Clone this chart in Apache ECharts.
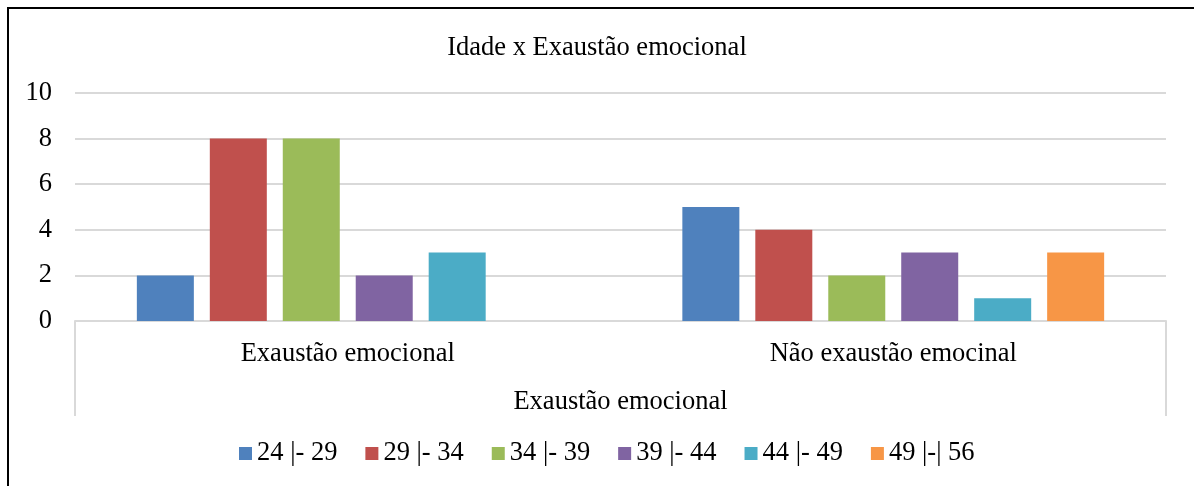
<!DOCTYPE html>
<html>
<head>
<meta charset="utf-8">
<script src="https://cdn.jsdelivr.net/npm/echarts@6/dist/echarts.min.js"></script>
<style>
  html, body { margin: 0; padding: 0; background: #fff; overflow: hidden; }
  #frame { position: absolute; left: 7px; top: 7px; width: 1300px; height: 600px; border: 2px solid #000; }
  #chart { position: absolute; left: 0; top: 0; width: 1194px; height: 486px; }
</style>
</head>
<body>
<div id="frame"></div>
<div id="chart"></div>
<script>
(function () {
var myChart = echarts.init(document.getElementById("chart"));

var categorias = ["Exaustão emocional", "Não exaustão emocinal"];
var faixas = ["24 |- 29", "29 |- 34", "34 |- 39", "39 |- 44", "44 |- 49", "49 |-| 56"];
var valores = [
    [2, 5],
    [8, 4],
    [8, 2],
    [2, 3],
    [3, 1],
    [null, 3]
];
var cores = ["#4F81BD", "#C0504D", "#9BBB59", "#8064A2", "#4BACC6", "#F79646"];

var fonte = "Liberation Serif";
var tam = 26.5;

var series = [];
for (var i = 0; i < faixas.length; i++) {
    series.push({
        name: faixas[i],
        type: 'bar',
        data: valores[i],
        barWidth: 57,
        barGap: '28%',
        itemStyle: { color: cores[i] }
    });
}

option = {
    animation: false,
    textStyle: { fontFamily: fonte, color: '#000' },
    title: {
        text: 'Idade x Exaustão emocional',
        left: 'center',
        top: 30,
        padding: [5, 5, 5, 17],
        textStyle: { fontFamily: fonte, fontWeight: 'normal', fontSize: tam, color: '#000' }
    },
    legend: {
        data: faixas,
        bottom: 14,
        left: 234,
        icon: 'rect',
        itemWidth: 13,
        itemHeight: 13,
        itemGap: 28,
        textStyle: { fontFamily: fonte, fontSize: tam, color: '#000' }
    },
    grid: { left: 75, right: 28, top: 93, bottom: 165 },
    xAxis: [{
        type: 'category',
        data: categorias,
        position: 'bottom',
        axisLine: { lineStyle: { color: '#D9D9D9', width: 2 } },
        axisTick: { show: false },
        axisLabel: { fontFamily: fonte, fontSize: tam, color: '#000', margin: 20 }
    }, {
        type: 'category',
        data: [''],
        position: 'bottom',
        axisLine: { show: false },
        axisTick: { show: true, length: 95, lineStyle: { color: '#D9D9D9', width: 2 } },
        axisLabel: { show: false },
        name: 'Exaustão emocional',
        nameLocation: 'middle',
        nameGap: 68,
        nameTextStyle: { fontFamily: fonte, fontSize: tam, color: '#000' }
    }],
    yAxis: {
        type: 'value',
        min: 0,
        max: 10,
        interval: 2,
        axisLine: { show: false },
        axisTick: { show: false },
        splitLine: { lineStyle: { color: '#D9D9D9', width: 2 } },
        axisLabel: { fontFamily: fonte, fontSize: tam, color: '#000', margin: 23 }
    },
    series: series
};

    myChart.setOption(option);
    window.addEventListener("resize", function() {
    myChart.resize();
      });
})();
</script>
</body>
</html>
